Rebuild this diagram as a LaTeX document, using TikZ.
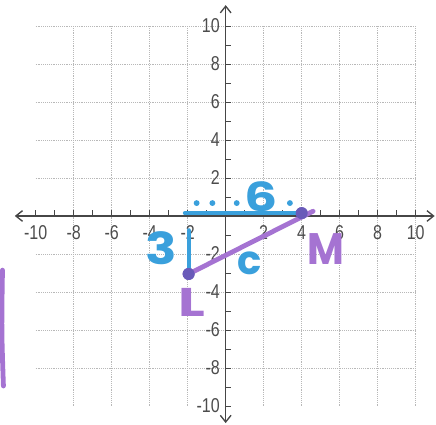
\documentclass[tikz,border=0pt]{standalone}
\usepackage{fontspec}
\setmainfont{Liberation Sans}
\newfontfamily\handfont{Poppins}
\usepackage{xcolor}
\usetikzlibrary{arrows.meta,positioning}
\definecolor{penblue}{RGB}{58,160,220}
\definecolor{penpurple}{RGB}{165,115,210}
\definecolor{dotpurple}{RGB}{105,90,185}
\definecolor{axisgray}{RGB}{70,70,70}

\begin{document}
\begin{tikzpicture}[
    x=0.5cm, y=0.5cm,
    gridline/.style={black!28, densely dotted, line width=0.4pt},
    axis/.style={axisgray, line width=1pt, {Straight Barb[length=5pt,width=8pt]}-{Straight Barb[length=5pt,width=8pt]}},
    axistick/.style={axisgray, line width=0.7pt},
    ticklabel/.style={text=black!70, font=\fontsize{15}{15}\selectfont, xscale=0.8, inner sep=0pt},
    bluepen/.style={penblue, line width=3pt, line cap=round},
    purplepen/.style={penpurple, line width=3.6pt, line cap=round},
    hand/.style={font=\handfont\bfseries\fontsize{30}{30}\selectfont, inner sep=0pt},
    vertex/.style={circle, fill=dotpurple, inner sep=0pt, minimum size=9pt}
]
    \useasboundingbox (-11.88,-11.0) rectangle (11.07,11.37);

    % grid and axes
    \draw[gridline] (-10,-10) grid (10,10);
    \draw[axis] (-11.1,0) -- (11.0,0);
    \draw[axis] (0,-10.9) -- (0,11.1);
    \foreach \i in {-10,...,10} {
        \draw[axistick] (\i,0) -- (\i,0.3);
        \draw[axistick] (0,\i) -- (0.3,\i);
    }
    \foreach \i in {-10,-8,-6,-4,-2,2,4,6,8,10} {
        \node[ticklabel] (xl\i) at (\i,-0.85) {\i};
        \node[ticklabel, anchor=east] (yl\i) at (-0.3,\i) {\i};
    }

    % triangle
    \node[vertex] (L) at (-1.95,-3.05) {};
    \node[vertex] (M) at (4,0.15) {};
    \coordinate (legtop) at (-1.95,-0.75);
    \coordinate (legleft) at (-2.15,0.15);
    \coordinate (hypend) at (4.6,0.25);

    \draw[bluepen] (legleft) -- (M);
    \draw[bluepen] (legtop) -- (L);
    \draw[purplepen] (L) -- (hypend);
    \node[vertex] at (L) {};
    \node[vertex] at (M) {};

    \foreach \x in {-1.53,-0.7,0.58,3.38}
        \fill[penblue] (\x,0.68) circle (2.2pt);

    % handwriting
    \node[hand, text=penblue, xscale=1.3] (six) at (1.85,1.0) {6};
    \node[hand, text=penblue, xscale=1.3, yscale=1.1] (three) at (-3.4,-1.7) {3};
    \node[hand, text=penblue] (hyp) at (1.25,-2.5) {c};
    \node[hand, text=penpurple, yscale=1.1] (mlabel) at (5.3,-1.75) {M};
    \node[hand, text=penpurple, xscale=1.4] (llabel) at (-1.8,-4.55) {L};
    \draw[purplepen] (-11.75,-2.85) .. controls (-11.8,-6) .. (-11.7,-8.95);
\end{tikzpicture}
\end{document}
